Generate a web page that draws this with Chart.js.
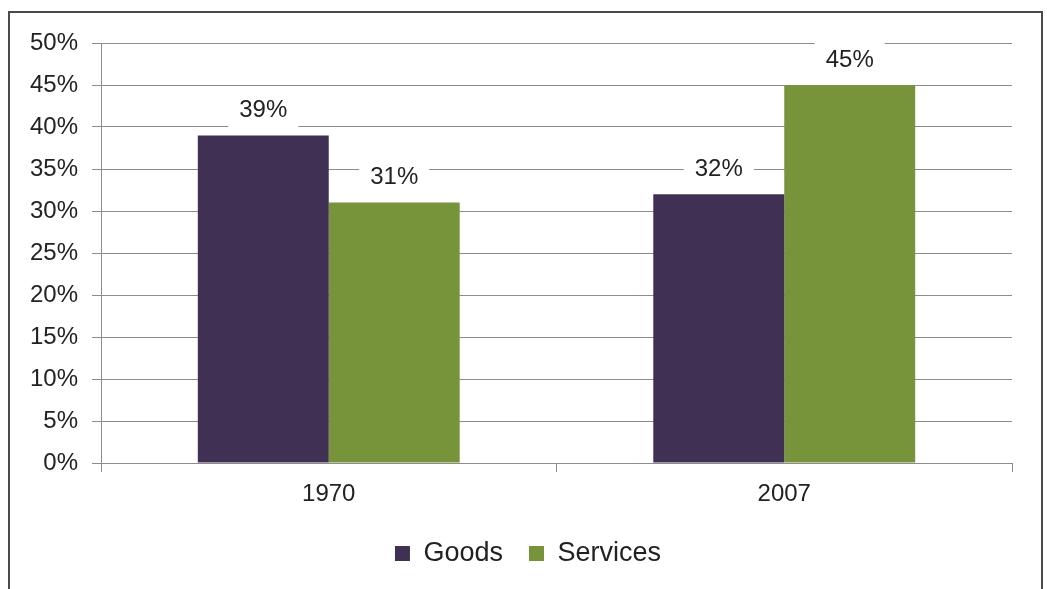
<!DOCTYPE html>
<html>
<head>
<meta charset="utf-8">
<script src="https://cdn.jsdelivr.net/npm/chart.js@4.4.1/dist/chart.umd.min.js"></script>
<style>
    html, body { margin: 0; padding: 0; background: #fff; }
    #wrap { position: relative; width: 1047px; height: 589px; overflow: hidden; }
    #frame {
        position: absolute; left: 8px; top: 11px;
        width: 1031px; height: 640px;
        border: 2px solid #4a4a4a;
    }
    #chart { position: absolute; left: 0; top: 0; }
</style>
</head>
<body>
<div id="wrap">
    <div id="frame"></div>
    <canvas id="chart" width="1047" height="589"></canvas>
</div>
<script>
// Data
const years = ['1970', '2007'];
const goods = [39, 32];
const services = [31, 45];
const yTicks = [0, 5, 10, 15, 20, 25, 30, 35, 40, 45, 50];

const FONT = "'Liberation Sans', Arial, sans-serif";
const TEXT = '#222222';
const GRID = '#8c8c8c';

// value labels sitting on a white box above each bar
const barLabels = {
    id: 'barLabels',
    afterDatasetsDraw(chart) {
        const ctx = chart.ctx;
        ctx.save();
        ctx.font = '24px ' + FONT;
        ctx.textAlign = 'center';
        ctx.textBaseline = 'middle';
        chart.data.datasets.forEach((ds, i) => {
            chart.getDatasetMeta(i).data.forEach((bar, j) => {
                const text = ds.data[j] + '%';
                const w = ctx.measureText(text).width + 22;
                const cy = bar.y - 25;
                ctx.fillStyle = '#ffffff';
                ctx.fillRect(bar.x - w / 2, cy - 17, w, 34);
                ctx.fillStyle = TEXT;
                ctx.fillText(text, bar.x, cy);
            });
        });
        ctx.restore();
    }
};

// legend in the reference sits a bit right of the canvas centre
const legendShift = {
    id: 'legendShift',
    afterLayout(chart) {
        if (chart.legend) {
            chart.legend.left += 22;
            chart.legend.right += 22;
        }
    }
};

function createBarChart() {
    const ctx = document.getElementById('chart').getContext('2d');

    new Chart(ctx, {
        type: 'bar',
        data: {
            labels: years,
            datasets: [
                {
                    label: 'Goods',
                    data: goods,
                    backgroundColor: '#403053',
                    borderWidth: 0
                },
                {
                    label: 'Services',
                    data: services,
                    backgroundColor: '#77943b',
                    borderWidth: 0
                }
            ]
        },
        options: {
            responsive: false,
            animation: false,
            devicePixelRatio: 1,
            categoryPercentage: 0.575,
            barPercentage: 1,
            layout: {
                padding: { left: 0, right: 35, top: 43, bottom: 12 }
            },
            plugins: {
                legend: {
                    position: 'bottom',
                    labels: {
                        boxWidth: 15,
                        boxHeight: 15,
                        padding: 26,
                        color: TEXT,
                        font: { family: FONT, size: 27 }
                    }
                },
                tooltip: { enabled: false }
            },
            scales: {
                x: {
                    afterFit: scale => { scale.height = 51; },
                    grid: {
                        display: true,
                        drawOnChartArea: false,
                        offset: true,
                        tickLength: 9,
                        color: GRID
                    },
                    border: { color: GRID, width: 1 },
                    ticks: {
                        color: TEXT,
                        padding: 8,
                        font: { family: FONT, size: 24 }
                    }
                },
                y: {
                    min: 0,
                    max: 50,
                    afterFit: scale => { scale.width = 101; },
                    afterBuildTicks: scale => {
                        scale.ticks = yTicks.map(v => ({ value: v }));
                    },
                    grid: {
                        color: GRID,
                        tickLength: 9
                    },
                    border: { color: GRID, width: 1 },
                    ticks: {
                        color: TEXT,
                        padding: 14,
                        font: { family: FONT, size: 24 },
                        callback: v => v + '%'
                    }
                }
            }
        },
        plugins: [barLabels, legendShift]
    });
}

createBarChart();
</script>
</body>
</html>
